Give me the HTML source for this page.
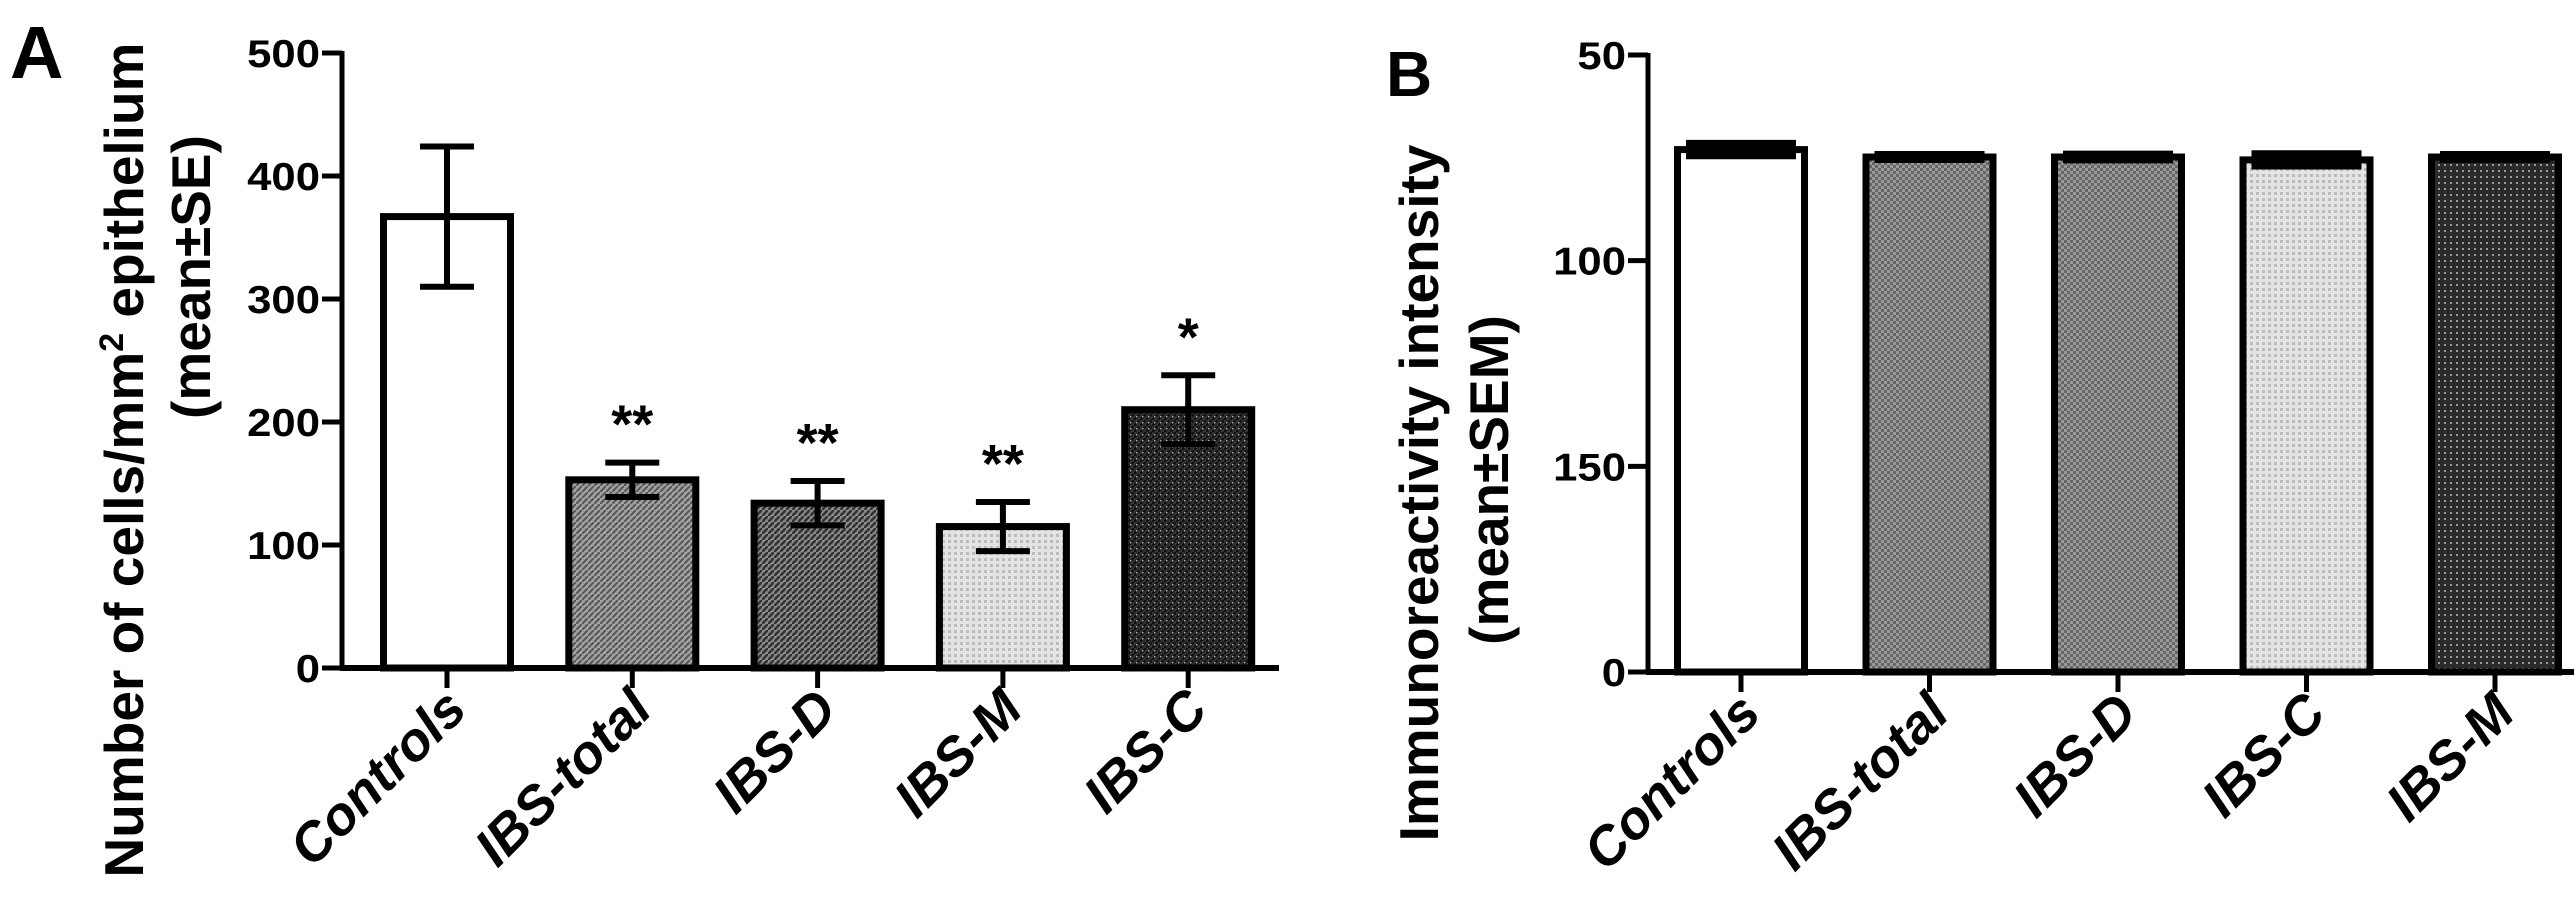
<!DOCTYPE html>
<html><head><meta charset="utf-8"><style>
html,body{margin:0;padding:0;background:#fff;}
svg{display:block;font-family:"Liberation Sans",Arial,sans-serif;}
</style></head><body>
<svg id="fig" width="2576" height="902" viewBox="0 0 2576 902" xmlns="http://www.w3.org/2000/svg">
<defs>
<pattern id="pMid" width="6" height="6" patternUnits="userSpaceOnUse"><rect width="6" height="6" fill="#a0a0a0"/><path d="M0 6L6 0" stroke="#555" stroke-width="2"/></pattern>
<pattern id="pDark" width="6" height="6" patternUnits="userSpaceOnUse"><rect width="6" height="6" fill="#888"/><path d="M0 6L6 0" stroke="#333" stroke-width="2.5"/></pattern>
<pattern id="pLight" width="6" height="6" patternUnits="userSpaceOnUse"><rect width="6" height="6" fill="#e4e4e4"/><rect width="3" height="3" fill="#bbb"/></pattern>
<pattern id="pBlack" width="6" height="6" patternUnits="userSpaceOnUse"><rect width="6" height="6" fill="#333"/><path d="M0 6L6 0" stroke="#111" stroke-width="2.5"/><rect x="2" y="2" width="1.5" height="1.5" fill="#aaa"/></pattern>
<pattern id="pGrayB" width="6" height="6" patternUnits="userSpaceOnUse"><rect width="6" height="6" fill="#999"/><rect width="3" height="3" fill="#666"/><rect x="3" y="3" width="3" height="3" fill="#666"/></pattern>
<pattern id="pDarkB" width="6" height="6" patternUnits="userSpaceOnUse"><rect width="6" height="6" fill="#2a2a2a"/><rect x="2" y="2" width="2" height="2" fill="#999"/></pattern>
</defs>
<g id="panelA"></g>
<g id="panelB"></g>
</svg>
<script>
const catsA = ["Controls","IBS-total","IBS-D","IBS-M","IBS-C"];
const valsA = [367,153,134,115,210];
const errA = [57,14,18,20,28];
const starsA = ["","**","**","**","*"];
const ticksA = [0,100,200,300,400,500];
const fillsA = ["#fff","url(#pMid)","url(#pDark)","url(#pLight)","url(#pBlack)"];

const catsB = ["Controls","IBS-total","IBS-D","IBS-C","IBS-M"];
const valsB = [127,125.2,125.2,124.5,125.2];
const errB = [1.5,0.6,0.7,1.5,0.6];
const tickPosB = [0,50,100,150];
const tickLabelsB = ["0","150","100","50"];
const fillsB = ["#fff","url(#pGrayB)","url(#pGrayB)","url(#pLight)","url(#pDarkB)"];

const NS="http://www.w3.org/2000/svg";
function mk(parent,tag,attrs,text){const e=document.createElementNS(NS,tag);for(const k in attrs)e.setAttribute(k,attrs[k]);if(text!==undefined)e.textContent=text;parent.appendChild(e);return e;}

function drawPanel(g,cfg){
  const y=v=>cfg.y0-(v-cfg.vmin)/(cfg.vmax-cfg.vmin)*(cfg.y0-cfg.yTop);
  const x=i=>cfg.x1+cfg.step*i;
  cfg.cats.forEach((c,i)=>{
    const cx=x(i),top=y(cfg.vals[i]);
    const b=mk(g,"rect",{x:cx-cfg.bw/2,y:top,width:cfg.bw,height:cfg.y0-top,fill:cfg.fills[i],stroke:"#000","stroke-width":7});
    
    
    const eh=y(cfg.vals[i]+cfg.err[i]),el=y(cfg.vals[i]-cfg.err[i]);
    const eg=mk(g,"g",{stroke:"#000","stroke-width":cfg.ebw});
    
    
    mk(eg,"line",{x1:cx,x2:cx,y1:eh,y2:el});
    mk(eg,"line",{x1:cx-cfg.capw/2,x2:cx+cfg.capw/2,y1:eh,y2:eh});
    mk(eg,"line",{x1:cx-cfg.capw/2,x2:cx+cfg.capw/2,y1:el,y2:el});
    if(cfg.stars&&cfg.stars[i]){
      const s=mk(g,"text",{x:cx,y:eh-20,"text-anchor":"middle","font-size":54,"font-weight":"bold"},cfg.stars[i]);
      
      
    }
    mk(g,"line",{x1:cx,x2:cx,y1:cfg.y0,y2:cfg.y0+20,stroke:"#000","stroke-width":5});
    const t=mk(g,"text",{x:0,y:0,"text-anchor":"end","font-size":54,"font-weight":"bold","font-style":"italic",transform:`translate(${cx+22},${cfg.y0+44}) rotate(-45)`},c);
    
    
  });
  const ax=mk(g,"line",{x1:cfg.ax,x2:cfg.ax,y1:cfg.yTop-2,y2:cfg.y0+2,stroke:"#000","stroke-width":5});
  
  const xx=mk(g,"line",{x1:cfg.ax-2,x2:cfg.xEnd,y1:cfg.y0,y2:cfg.y0,stroke:"#000","stroke-width":6});
  
  cfg.ticks.forEach((v,i)=>{
    const ty=y(v);
    mk(g,"line",{x1:cfg.ax-20,x2:cfg.ax,y1:ty,y2:ty,stroke:"#000","stroke-width":5});
    const lbl=cfg.tickLabels?cfg.tickLabels[i]:String(v);
    const t=mk(g,"text",{x:0,y:0,"text-anchor":"end","font-size":39,"font-weight":"bold",transform:`translate(${cfg.ax-22},${ty+14}) scale(1.12,1)`},lbl);
    
    
  });
}

drawPanel(document.getElementById('panelA'),{cats:catsA,vals:valsA,err:errA,stars:starsA,ticks:ticksA,fills:fillsA,
  vmin:0,vmax:500,y0:668,yTop:53,ax:342,xEnd:1279,x1:447,step:185.3,bw:127,capw:54,ebw:6});
drawPanel(document.getElementById('panelB'),{cats:catsB,vals:valsB,err:errB,ticks:tickPosB,tickLabels:tickLabelsB,fills:fillsB,
  vmin:0,vmax:150,y0:672,yTop:55,ax:1648,xEnd:2574,x1:1741,step:188.5,bw:127,capw:110,ebw:7});

const gA=document.getElementById('panelA');
let la=mk(gA,"text",{x:10,y:78,"font-size":74,"font-weight":"bold"},"A");

let ya=mk(gA,"text",{x:0,y:0,"text-anchor":"middle","font-size":55,"font-weight":"bold",transform:"translate(143,460) rotate(-90)"});

ya.innerHTML='Number of cells/mm<tspan dy="-20" font-size="34">2</tspan><tspan dy="20"> epithelium</tspan>';
let ya2=mk(gA,"text",{x:0,y:0,"text-anchor":"middle","font-size":55,"font-weight":"bold",transform:"translate(210,277) rotate(-90)"},"(mean±SE)");


const gB=document.getElementById('panelB');
let lb=mk(gB,"text",{x:1386,y:96,"font-size":64,"font-weight":"bold"},"B");

let yb=mk(gB,"text",{x:0,y:0,"text-anchor":"middle","font-size":55,"font-weight":"bold",transform:"translate(1438,493) rotate(-90)"},"Immunoreactivity intensity");

let yb2=mk(gB,"text",{x:0,y:0,"text-anchor":"middle","font-size":55,"font-weight":"bold",transform:"translate(1508,480) rotate(-90)"},"(mean±SEM)");

</script>
</body></html>
